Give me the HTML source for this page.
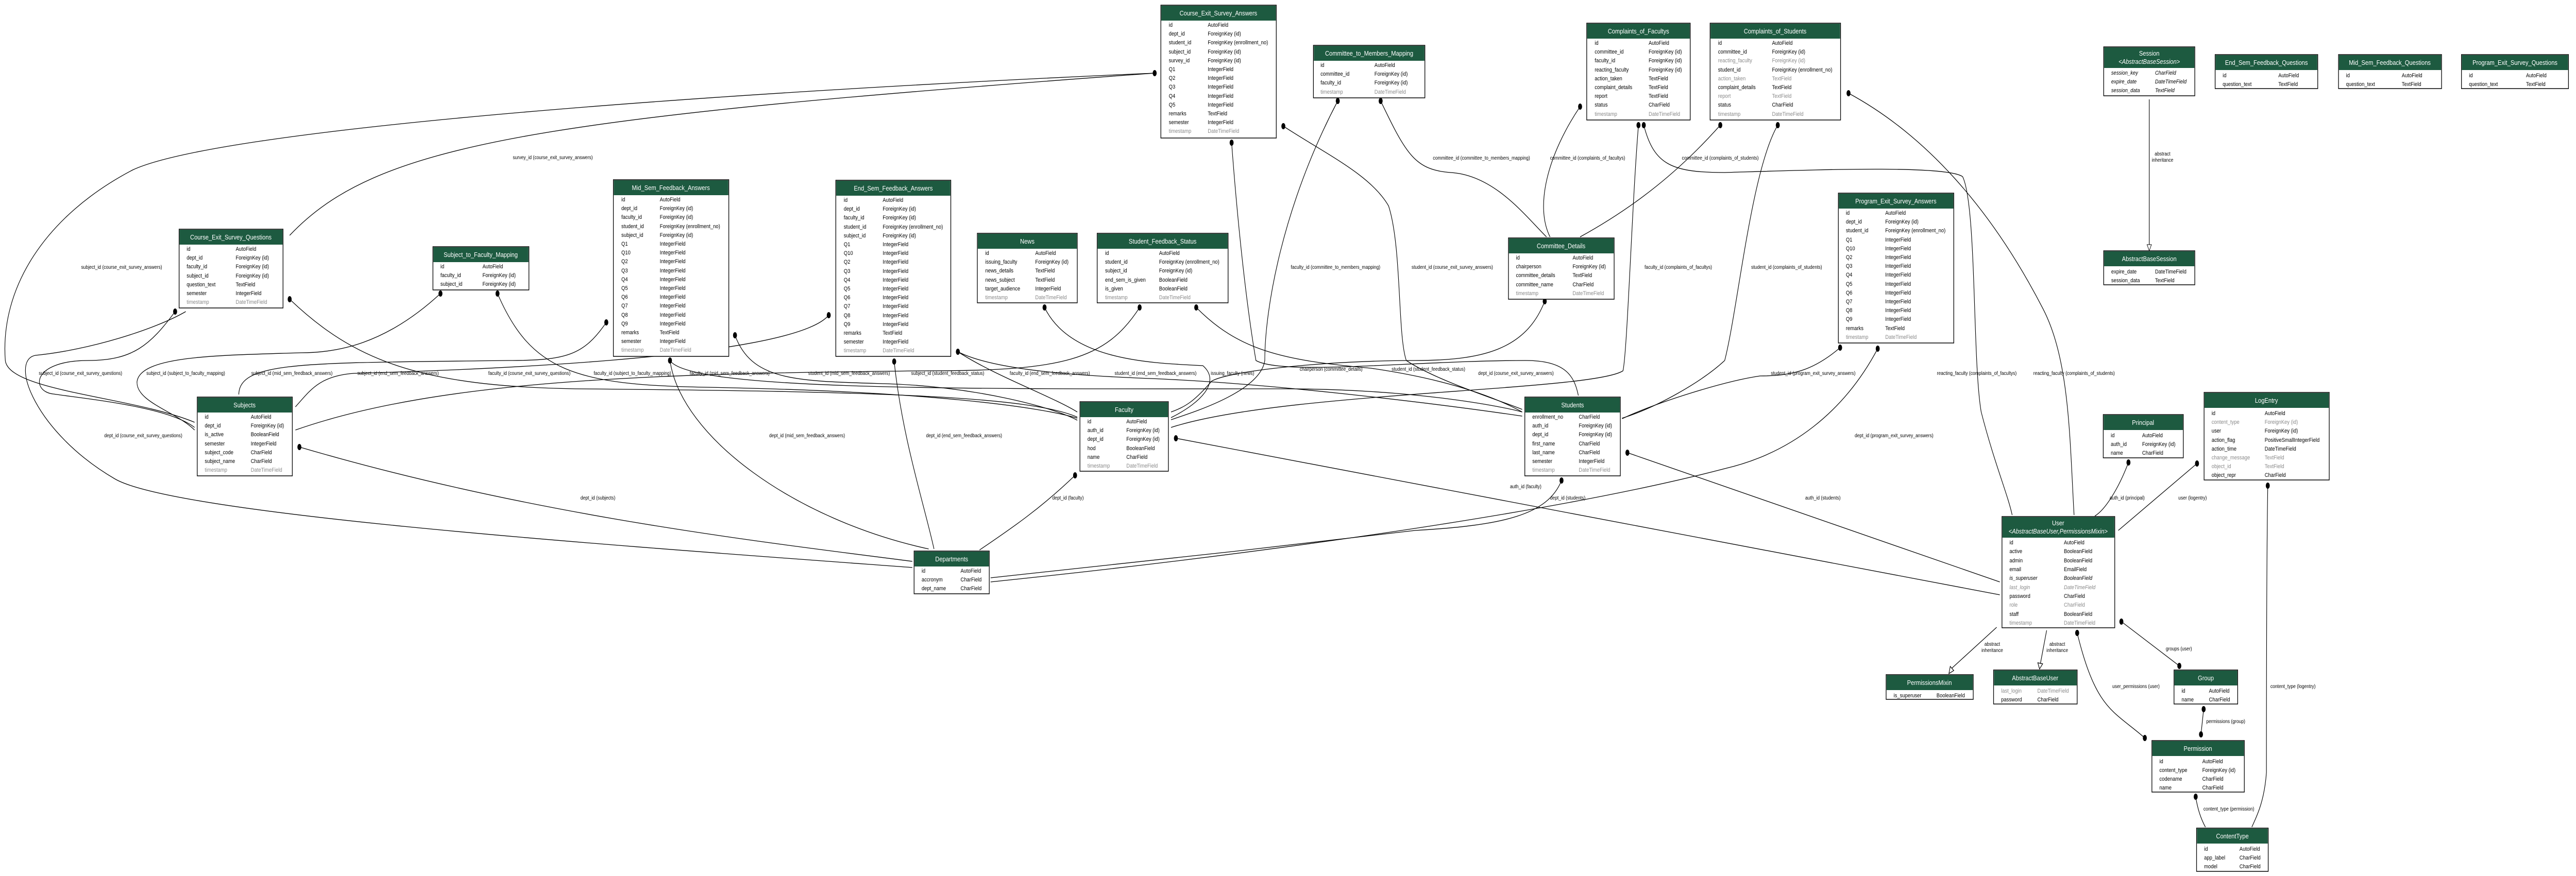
<!DOCTYPE html>
<html><head><meta charset="utf-8"><style>
html,body{margin:0;padding:0;background:#fff;width:100vw;height:100vh;overflow:hidden;}
svg{display:block;width:100vw;height:100vh}
.r{font-family:"Liberation Sans",sans-serif;font-size:11px;fill:#000}
.g{fill:#8a8a8a}
.i{font-style:italic}
.h{font-family:"Liberation Sans",sans-serif;font-size:13px;fill:#fff;text-anchor:middle}
.l{font-family:"Liberation Sans",sans-serif;font-size:10px;fill:#000;text-anchor:middle}
.e{fill:none;stroke:#000;stroke-width:1.3}
.hd{fill:#1d5a40}
.bx{fill:#fff;stroke:#000;stroke-width:1.5}
</style></head><body>
<svg viewBox="0 0 5825 1701" preserveAspectRatio="none" xmlns="http://www.w3.org/2000/svg">
<rect width="5825" height="1701" fill="#fff"/>

<g>
<path class="e" d="M2611,142 C1600,180 500,250 300,330 C100,420 0,560 12,700 C20,760 300,770 440,820"/>
<path class="e" d="M655,457 C850,280 1200,230 2611,142"/>
<path class="e" d="M396,605 C340,670 300,700 200,700 C70,700 70,760 120,765 C200,775 380,790 440,830"/>
<path class="e" d="M996,570 C870,670 760,685 680,685 C500,690 320,690 310,740 C305,780 400,800 440,835"/>
<path class="e" d="M1371,626 C1320,690 1280,700 1150,700 C700,705 540,700 540,766"/>
<path class="e" d="M1874,612 C1790,700 1000,720 800,725 C720,730 700,760 668,790"/>
<path class="e" d="M655,581 C800,700 950,750 1300,755 C2000,760 2330,770 2436,810"/>
<path class="e" d="M1125,570 C1200,720 1300,748 1600,752 C2100,760 2350,790 2436,812"/>
<path class="e" d="M1662,651 C1700,740 1800,740 2000,745 C2200,750 2380,790 2436,816"/>
<path class="e" d="M1515,700 C1540,850 1800,1010 2100,1066"/>
<path class="e" d="M1515,700 C1560,760 2200,755 2900,755 C3200,755 3400,790 3442,800"/>
<path class="e" d="M2022,702 C2040,850 2090,980 2112,1066"/>
<path class="e" d="M677,868 C1200,1000 1700,1050 2063,1090"/>
<path class="e" d="M2063,1102 C1400,1060 400,1000 260,930 C80,840 20,700 80,690 C200,680 350,640 420,605"/>
<path class="e" d="M2577,597 C2500,700 2400,720 2100,720 C1500,725 1000,735 668,835"/>
<path class="e" d="M2362,597 C2420,700 2600,705 2720,710 C2760,740 2720,780 2648,811"/>
<path class="e" d="M2705,597 C2800,680 2900,700 3100,715 C3300,740 3400,780 3442,800"/>
<path class="e" d="M2166,683 C2250,730 2380,770 2436,800"/>
<path class="e" d="M2166,683 C2250,720 2450,730 2600,735 C2900,745 3300,790 3442,808"/>
<path class="e" d="M3025,196 C2900,400 2860,600 2860,700 C2850,760 2700,800 2648,815"/>
<path class="e" d="M3122,196 C3180,300 3200,330 3280,335 C3380,340 3450,420 3497,460"/>
<path class="e" d="M3573,207 C3500,300 3470,400 3505,460"/>
<path class="e" d="M3890,243 C3800,330 3700,400 3573,460"/>
<path class="e" d="M3705,243 C3690,400 3680,680 3670,720 C3600,760 2900,760 2648,830"/>
<path class="e" d="M3717,243 C3740,320 3780,335 3900,335 C4100,330 4400,320 4438,343 C4470,400 4460,700 4480,800 C4510,900 4540,960 4550,1000"/>
<path class="e" d="M4180,181 C4350,260 4500,400 4620,600 C4680,700 4680,850 4690,1000"/>
<path class="e" d="M4020,243 C3960,330 3930,600 3900,700 C3850,740 3750,790 3668,812"/>
<path class="e" d="M2902,245 C3000,300 3100,340 3140,400 C3170,480 3160,650 3180,700 C3250,740 3400,780 3442,795"/>
<path class="e" d="M2785,277 C2800,450 2820,600 2840,700 C2900,730 3200,700 3450,700 C3540,700 3560,730 3569,768"/>
<path class="e" d="M3493,585 C3450,680 3350,700 3200,700 C3000,700 2780,720 2740,740 C2700,780 2680,790 2648,800"/>
<path class="e" d="M4161,675 C4100,720 4050,730 3980,730 C3900,740 3750,780 3668,813"/>
<path class="e" d="M4246,677 C4170,800 4050,880 3900,910 C3500,1000 2800,1080 2240,1130"/>
<path class="e" d="M3531,933 C3500,1000 3400,1020 3200,1030 C2900,1060 2500,1100 2240,1122"/>
<path class="e" d="M2431,923 C2350,990 2280,1030 2215,1068"/>
<path class="e" d="M2659,851 L4522,1155"/>
<path class="e" d="M3680,879 L4522,1130"/>
<path class="e" d="M4813,898 C4790,950 4760,990 4737,1002"/>
<path class="e" d="M4968,900 L4790,1030"/>
<path class="e" d="M5128,943 C5125,1100 5125,1400 5125,1500 C5120,1560 5100,1590 5092,1606"/>
<path class="e" d="M4965,1547 C4970,1575 4980,1595 4987,1606"/>
<path class="e" d="M4983,1377 L4977,1426"/>
<path class="e" d="M4797,1207 L4928,1293"/>
<path class="e" d="M4697,1229 C4740,1380 4780,1380 4850,1433"/>
<path class="e" d="M4860,193 L4860,475"/>
<polygon points="4855,475 4865,475 4860,487" fill="#fff" stroke="#000"/>
<path class="e" d="M4515,1218 L4413,1298"/>
<polygon points="4407,1308 4410,1294 4418,1302" fill="#fff" stroke="#000" stroke-width="1.3"/>
<path class="e" d="M4628,1224 L4614,1288"/>
<polygon points="4612,1299 4608,1287 4619,1289" fill="#fff" stroke="#000" stroke-width="1.3"/>
</g>
<g fill="#000">
<ellipse cx="2611" cy="142" rx="4.5" ry="6"/><ellipse cx="396" cy="605" rx="4.5" ry="6"/>
<ellipse cx="996" cy="570" rx="4.5" ry="6"/><ellipse cx="1371" cy="626" rx="4.5" ry="6"/>
<ellipse cx="1874" cy="612" rx="4.5" ry="6"/><ellipse cx="655" cy="581" rx="4.5" ry="6"/>
<ellipse cx="1125" cy="570" rx="4.5" ry="6"/><ellipse cx="1662" cy="651" rx="4.5" ry="6"/>
<ellipse cx="1515" cy="700" rx="4.5" ry="6"/><ellipse cx="2022" cy="702" rx="4.5" ry="6"/>
<ellipse cx="677" cy="868" rx="4.5" ry="6"/><ellipse cx="2577" cy="597" rx="4.5" ry="6"/>
<ellipse cx="2362" cy="597" rx="4.5" ry="6"/><ellipse cx="2705" cy="597" rx="4.5" ry="6"/>
<ellipse cx="2166" cy="683" rx="4.5" ry="6"/><ellipse cx="3025" cy="196" rx="4.5" ry="6"/>
<ellipse cx="3122" cy="196" rx="4.5" ry="6"/><ellipse cx="3573" cy="207" rx="4.5" ry="6"/>
<ellipse cx="3890" cy="243" rx="4.5" ry="6"/><ellipse cx="3705" cy="243" rx="4.5" ry="6"/>
<ellipse cx="3717" cy="243" rx="4.5" ry="6"/><ellipse cx="4180" cy="181" rx="4.5" ry="6"/>
<ellipse cx="4020" cy="243" rx="4.5" ry="6"/><ellipse cx="2902" cy="245" rx="4.5" ry="6"/>
<ellipse cx="2785" cy="277" rx="4.5" ry="6"/><ellipse cx="3493" cy="585" rx="4.5" ry="6"/>
<ellipse cx="4161" cy="675" rx="4.5" ry="6"/><ellipse cx="4246" cy="677" rx="4.5" ry="6"/>
<ellipse cx="3531" cy="933" rx="4.5" ry="6"/><ellipse cx="2431" cy="923" rx="4.5" ry="6"/>
<ellipse cx="2659" cy="851" rx="4.5" ry="6"/><ellipse cx="3680" cy="879" rx="4.5" ry="6"/>
<ellipse cx="4813" cy="898" rx="4.5" ry="6"/><ellipse cx="4968" cy="900" rx="4.5" ry="6"/>
<ellipse cx="5128" cy="943" rx="4.5" ry="6"/><ellipse cx="4965" cy="1547" rx="4.5" ry="6"/>
<ellipse cx="4983" cy="1377" rx="4.5" ry="6"/><ellipse cx="4977" cy="1426" rx="4.5" ry="6"/>
<ellipse cx="4797" cy="1207" rx="4.5" ry="6"/><ellipse cx="4928" cy="1293" rx="4.5" ry="6"/>
<ellipse cx="4697" cy="1229" rx="4.5" ry="6"/><ellipse cx="4850" cy="1433" rx="4.5" ry="6"/>
</g>
<g>
<text class="l" x="275" y="522">subject_id (course_exit_survey_answers)</text>
<text class="l" x="1250" y="309">survey_id (course_exit_survey_answers)</text>
<text class="l" x="182" y="728">subject_id (course_exit_survey_questions)</text>
<text class="l" x="420" y="728">subject_id (subject_to_faculty_mapping)</text>
<text class="l" x="660" y="728">subject_id (mid_sem_feedback_answers)</text>
<text class="l" x="900" y="728">subject_id (end_sem_feedback_answers)</text>
<text class="l" x="1197" y="728">faculty_id (course_exit_survey_questions)</text>
<text class="l" x="1430" y="728">faculty_id (subject_to_faculty_mapping)</text>
<text class="l" x="1650" y="728">faculty_id (mid_sem_feedback_answers)</text>
<text class="l" x="1920" y="728">student_id (mid_sem_feedback_answers)</text>
<text class="l" x="2143" y="728">subject_id (student_feedback_status)</text>
<text class="l" x="2374" y="728">faculty_id (end_sem_feedback_answers)</text>
<text class="l" x="2613" y="728">student_id (end_sem_feedback_answers)</text>
<text class="l" x="2787" y="728">issuing_faculty (news)</text>
<text class="l" x="3010" y="720">chairperson (committee_details)</text>
<text class="l" x="3230" y="720">student_id (student_feedback_status)</text>
<text class="l" x="3428" y="728">dept_id (course_exit_survey_answers)</text>
<text class="l" x="4100" y="728">student_id (program_exit_survey_answers)</text>
<text class="l" x="4470" y="728">reacting_faculty (complaints_of_facultys)</text>
<text class="l" x="4690" y="728">reacting_faculty (complaints_of_students)</text>
<text class="l" x="324" y="849">dept_id (course_exit_survey_questions)</text>
<text class="l" x="1825" y="849">dept_id (mid_sem_feedback_answers)</text>
<text class="l" x="2180" y="849">dept_id (end_sem_feedback_answers)</text>
<text class="l" x="4283" y="849">dept_id (program_exit_survey_answers)</text>
<text class="l" x="1352" y="970">dept_id (subjects)</text>
<text class="l" x="2415" y="970">dept_id (faculty)</text>
<text class="l" x="3450" y="948">auth_id (faculty)</text>
<text class="l" x="3545" y="970">dept_id (students)</text>
<text class="l" x="4122" y="970">auth_id (students)</text>
<text class="l" x="4810" y="970">auth_id (principal)</text>
<text class="l" x="4958" y="970">user (logentry)</text>
<text class="l" x="3020" y="522">faculty_id (committee_to_members_mapping)</text>
<text class="l" x="3284" y="522">student_id (course_exit_survey_answers)</text>
<text class="l" x="3795" y="522">faculty_id (complaints_of_facultys)</text>
<text class="l" x="4040" y="522">student_id (complaints_of_students)</text>
<text class="l" x="3350" y="310">committee_id (committee_to_members_mapping)</text>
<text class="l" x="3590" y="310">committee_id (complaints_of_facultys)</text>
<text class="l" x="3890" y="310">committee_id (complaints_of_students)</text>
<text class="l" x="4890" y="302">abstract</text><text class="l" x="4890" y="314">inheritance</text>
<text class="l" x="4505" y="1254">abstract</text><text class="l" x="4505" y="1266">inheritance</text>
<text class="l" x="4652" y="1254">abstract</text><text class="l" x="4652" y="1266">inheritance</text>
<text class="l" x="4927" y="1263">groups (user)</text>
<text class="l" x="4830" y="1336">user_permissions (user)</text>
<text class="l" x="5033" y="1404">permissions (group)</text>
<text class="l" x="5040" y="1574">content_type (permission)</text>
<text class="l" x="5185" y="1336">content_type (logentry)</text>
</g>

<g transform="translate(2625,10)"><rect class="bx" width="261" height="258"/><rect class="hd" x="1" y="1" width="259" height="29"/>
<text class="h" x="130" y="20">Course_Exit_Survey_Answers</text>
<g class="r"><text x="18" y="42">id</text><text x="106" y="42">AutoField</text>
<text x="18" y="59">dept_id</text><text x="106" y="59">ForeignKey (id)</text>
<text x="18" y="76">student_id</text><text x="106" y="76">ForeignKey (enrollment_no)</text>
<text x="18" y="94">subject_id</text><text x="106" y="94">ForeignKey (id)</text>
<text x="18" y="111">survey_id</text><text x="106" y="111">ForeignKey (id)</text>
<text x="18" y="128">Q1</text><text x="106" y="128">IntegerField</text>
<text x="18" y="145">Q2</text><text x="106" y="145">IntegerField</text>
<text x="18" y="162">Q3</text><text x="106" y="162">IntegerField</text>
<text x="18" y="180">Q4</text><text x="106" y="180">IntegerField</text>
<text x="18" y="197">Q5</text><text x="106" y="197">IntegerField</text>
<text x="18" y="214">remarks</text><text x="106" y="214">TextField</text>
<text x="18" y="231">semester</text><text x="106" y="231">IntegerField</text>
<text class="r g" x="18" y="248">timestamp</text><text class="r g" x="106" y="248">DateTimeField</text></g></g>

<g transform="translate(2970,88)"><rect class="bx" width="252" height="102"/><rect class="hd" x="1" y="1" width="250" height="29"/>
<text class="h" x="126" y="20">Committee_to_Members_Mapping</text>
<g class="r"><text x="16" y="42">id</text><text x="138" y="42">AutoField</text>
<text x="16" y="59">committee_id</text><text x="138" y="59">ForeignKey (id)</text>
<text x="16" y="76">faculty_id</text><text x="138" y="76">ForeignKey (id)</text>
<text class="r g" x="16" y="94">timestamp</text><text class="r g" x="138" y="94">DateTimeField</text></g></g>

<g transform="translate(3588,45)"><rect class="bx" width="234" height="188"/><rect class="hd" x="1" y="1" width="232" height="29"/>
<text class="h" x="117" y="20">Complaints_of_Facultys</text>
<g class="r"><text x="18" y="42">id</text><text x="140" y="42">AutoField</text>
<text x="18" y="59">committee_id</text><text x="140" y="59">ForeignKey (id)</text>
<text x="18" y="76">faculty_id</text><text x="140" y="76">ForeignKey (id)</text>
<text x="18" y="94">reacting_faculty</text><text x="140" y="94">ForeignKey (id)</text>
<text x="18" y="111">action_taken</text><text x="140" y="111">TextField</text>
<text x="18" y="128">complaint_details</text><text x="140" y="128">TextField</text>
<text x="18" y="145">report</text><text x="140" y="145">TextField</text>
<text x="18" y="162">status</text><text x="140" y="162">CharField</text>
<text class="r g" x="18" y="180">timestamp</text><text class="r g" x="140" y="180">DateTimeField</text></g></g>

<g transform="translate(3867,45)"><rect class="bx" width="295" height="188"/><rect class="hd" x="1" y="1" width="293" height="29"/>
<text class="h" x="147" y="20">Complaints_of_Students</text>
<g class="r"><text x="18" y="42">id</text><text x="140" y="42">AutoField</text>
<text x="18" y="59">committee_id</text><text x="140" y="59">ForeignKey (id)</text>
<text class="r g" x="18" y="76">reacting_faculty</text><text class="r g" x="140" y="76">ForeignKey (id)</text>
<text x="18" y="94">student_id</text><text x="140" y="94">ForeignKey (enrollment_no)</text>
<text class="r g" x="18" y="111">action_taken</text><text class="r g" x="140" y="111">TextField</text>
<text x="18" y="128">complaint_details</text><text x="140" y="128">TextField</text>
<text class="r g" x="18" y="145">report</text><text class="r g" x="140" y="145">TextField</text>
<text x="18" y="162">status</text><text x="140" y="162">CharField</text>
<text class="r g" x="18" y="180">timestamp</text><text class="r g" x="140" y="180">DateTimeField</text></g></g>

<g transform="translate(3411,462)"><rect class="bx" width="239" height="119"/><rect class="hd" x="1" y="1" width="237" height="29"/>
<text class="h" x="119" y="20">Committee_Details</text>
<g class="r"><text x="17" y="42">id</text><text x="145" y="42">AutoField</text>
<text x="17" y="59">chairperson</text><text x="145" y="59">ForeignKey (id)</text>
<text x="17" y="76">committee_details</text><text x="145" y="76">TextField</text>
<text x="17" y="94">committee_name</text><text x="145" y="94">CharField</text>
<text class="r g" x="17" y="111">timestamp</text><text class="r g" x="145" y="111">DateTimeField</text></g></g>

<g transform="translate(405,445)"><rect class="bx" width="235" height="153"/><rect class="hd" x="1" y="1" width="233" height="29"/>
<text class="h" x="117" y="20">Course_Exit_Survey_Questions</text>
<g class="r"><text x="17" y="42">id</text><text x="128" y="42">AutoField</text>
<text x="17" y="59">dept_id</text><text x="128" y="59">ForeignKey (id)</text>
<text x="17" y="76">faculty_id</text><text x="128" y="76">ForeignKey (id)</text>
<text x="17" y="94">subject_id</text><text x="128" y="94">ForeignKey (id)</text>
<text x="17" y="111">question_text</text><text x="128" y="111">TextField</text>
<text x="17" y="128">semester</text><text x="128" y="128">IntegerField</text>
<text class="r g" x="17" y="145">timestamp</text><text class="r g" x="128" y="145">DateTimeField</text></g></g>

<g transform="translate(979,479)"><rect class="bx" width="217" height="84"/><rect class="hd" x="1" y="1" width="215" height="29"/>
<text class="h" x="108" y="20">Subject_to_Faculty_Mapping</text>
<g class="r"><text x="17" y="42">id</text><text x="112" y="42">AutoField</text>
<text x="17" y="59">faculty_id</text><text x="112" y="59">ForeignKey (id)</text>
<text x="17" y="76">subject_id</text><text x="112" y="76">ForeignKey (id)</text></g></g>

<g transform="translate(1387,349)"><rect class="bx" width="261" height="343"/><rect class="hd" x="1" y="1" width="259" height="29"/>
<text class="h" x="130" y="20">Mid_Sem_Feedback_Answers</text>
<g class="r"><text x="18" y="42">id</text><text x="105" y="42">AutoField</text>
<text x="18" y="59">dept_id</text><text x="105" y="59">ForeignKey (id)</text>
<text x="18" y="76">faculty_id</text><text x="105" y="76">ForeignKey (id)</text>
<text x="18" y="94">student_id</text><text x="105" y="94">ForeignKey (enrollment_no)</text>
<text x="18" y="111">subject_id</text><text x="105" y="111">ForeignKey (id)</text>
<text x="18" y="128">Q1</text><text x="105" y="128">IntegerField</text>
<text x="18" y="145">Q10</text><text x="105" y="145">IntegerField</text>
<text x="18" y="162">Q2</text><text x="105" y="162">IntegerField</text>
<text x="18" y="180">Q3</text><text x="105" y="180">IntegerField</text>
<text x="18" y="197">Q4</text><text x="105" y="197">IntegerField</text>
<text x="18" y="214">Q5</text><text x="105" y="214">IntegerField</text>
<text x="18" y="231">Q6</text><text x="105" y="231">IntegerField</text>
<text x="18" y="248">Q7</text><text x="105" y="248">IntegerField</text>
<text x="18" y="266">Q8</text><text x="105" y="266">IntegerField</text>
<text x="18" y="283">Q9</text><text x="105" y="283">IntegerField</text>
<text x="18" y="300">remarks</text><text x="105" y="300">TextField</text>
<text x="18" y="317">semester</text><text x="105" y="317">IntegerField</text>
<text class="r g" x="18" y="334">timestamp</text><text class="r g" x="105" y="334">DateTimeField</text></g></g>

<g transform="translate(446,771)"><rect class="bx" width="215" height="153"/><rect class="hd" x="1" y="1" width="213" height="29"/>
<text class="h" x="107" y="20">Subjects</text>
<g class="r"><text x="17" y="42">id</text><text x="121" y="42">AutoField</text>
<text x="17" y="59">dept_id</text><text x="121" y="59">ForeignKey (id)</text>
<text x="17" y="76">is_active</text><text x="121" y="76">BooleanField</text>
<text x="17" y="94">semester</text><text x="121" y="94">IntegerField</text>
<text x="17" y="111">subject_code</text><text x="121" y="111">CharField</text>
<text x="17" y="128">subject_name</text><text x="121" y="128">CharField</text>
<text class="r g" x="17" y="145">timestamp</text><text class="r g" x="121" y="145">DateTimeField</text></g></g>

<g transform="translate(1890,350)"><rect class="bx" width="260" height="342"/><rect class="hd" x="1" y="1" width="258" height="29"/>
<text class="h" x="130" y="20">End_Sem_Feedback_Answers</text>
<g class="r"><text x="18" y="42">id</text><text x="106" y="42">AutoField</text>
<text x="18" y="59">dept_id</text><text x="106" y="59">ForeignKey (id)</text>
<text x="18" y="76">faculty_id</text><text x="106" y="76">ForeignKey (id)</text>
<text x="18" y="94">student_id</text><text x="106" y="94">ForeignKey (enrollment_no)</text>
<text x="18" y="111">subject_id</text><text x="106" y="111">ForeignKey (id)</text>
<text x="18" y="128">Q1</text><text x="106" y="128">IntegerField</text>
<text x="18" y="145">Q10</text><text x="106" y="145">IntegerField</text>
<text x="18" y="162">Q2</text><text x="106" y="162">IntegerField</text>
<text x="18" y="180">Q3</text><text x="106" y="180">IntegerField</text>
<text x="18" y="197">Q4</text><text x="106" y="197">IntegerField</text>
<text x="18" y="214">Q5</text><text x="106" y="214">IntegerField</text>
<text x="18" y="231">Q6</text><text x="106" y="231">IntegerField</text>
<text x="18" y="248">Q7</text><text x="106" y="248">IntegerField</text>
<text x="18" y="266">Q8</text><text x="106" y="266">IntegerField</text>
<text x="18" y="283">Q9</text><text x="106" y="283">IntegerField</text>
<text x="18" y="300">remarks</text><text x="106" y="300">TextField</text>
<text x="18" y="317">semester</text><text x="106" y="317">IntegerField</text>
<text class="r g" x="18" y="334">timestamp</text><text class="r g" x="106" y="334">DateTimeField</text></g></g>

<g transform="translate(2210,453)"><rect class="bx" width="226" height="135"/><rect class="hd" x="1" y="1" width="224" height="29"/>
<text class="h" x="113" y="20">News</text>
<g class="r"><text x="18" y="42">id</text><text x="131" y="42">AutoField</text>
<text x="18" y="59">issuing_faculty</text><text x="131" y="59">ForeignKey (id)</text>
<text x="18" y="76">news_details</text><text x="131" y="76">TextField</text>
<text x="18" y="94">news_subject</text><text x="131" y="94">TextField</text>
<text x="18" y="111">target_audience</text><text x="131" y="111">IntegerField</text>
<text class="r g" x="18" y="128">timestamp</text><text class="r g" x="131" y="128">DateTimeField</text></g></g>

<g transform="translate(2481,453)"><rect class="bx" width="296" height="135"/><rect class="hd" x="1" y="1" width="294" height="29"/>
<text class="h" x="148" y="20">Student_Feedback_Status</text>
<g class="r"><text x="18" y="42">id</text><text x="140" y="42">AutoField</text>
<text x="18" y="59">student_id</text><text x="140" y="59">ForeignKey (enrollment_no)</text>
<text x="18" y="76">subject_id</text><text x="140" y="76">ForeignKey (id)</text>
<text x="18" y="94">end_sem_is_given</text><text x="140" y="94">BooleanField</text>
<text x="18" y="111">is_given</text><text x="140" y="111">BooleanField</text>
<text class="r g" x="18" y="128">timestamp</text><text class="r g" x="140" y="128">DateTimeField</text></g></g>

<g transform="translate(2442,780)"><rect class="bx" width="200" height="135"/><rect class="hd" x="1" y="1" width="198" height="29"/>
<text class="h" x="100" y="20">Faculty</text>
<g class="r"><text x="17" y="42">id</text><text x="105" y="42">AutoField</text>
<text x="17" y="59">auth_id</text><text x="105" y="59">ForeignKey (id)</text>
<text x="17" y="76">dept_id</text><text x="105" y="76">ForeignKey (id)</text>
<text x="17" y="94">hod</text><text x="105" y="94">BooleanField</text>
<text x="17" y="111">name</text><text x="105" y="111">CharField</text>
<text class="r g" x="17" y="128">timestamp</text><text class="r g" x="105" y="128">DateTimeField</text></g></g>

<g transform="translate(2067,1070)"><rect class="bx" width="170" height="83"/><rect class="hd" x="1" y="1" width="168" height="29"/>
<text class="h" x="85" y="20">Departments</text>
<g class="r"><text x="17" y="42">id</text><text x="105" y="42">AutoField</text>
<text x="17" y="59">accronym</text><text x="105" y="59">CharField</text>
<text x="17" y="76">dept_name</text><text x="105" y="76">CharField</text></g></g>

<g transform="translate(3448,771)"><rect class="bx" width="216" height="153"/><rect class="hd" x="1" y="1" width="214" height="29"/>
<text class="h" x="108" y="20">Students</text>
<g class="r"><text x="17" y="42">enrollment_no</text><text x="122" y="42">CharField</text>
<text x="17" y="59">auth_id</text><text x="122" y="59">ForeignKey (id)</text>
<text x="17" y="76">dept_id</text><text x="122" y="76">ForeignKey (id)</text>
<text x="17" y="94">first_name</text><text x="122" y="94">CharField</text>
<text x="17" y="111">last_name</text><text x="122" y="111">CharField</text>
<text x="17" y="128">semester</text><text x="122" y="128">IntegerField</text>
<text class="r g" x="17" y="145">timestamp</text><text class="r g" x="122" y="145">DateTimeField</text></g></g>

<g transform="translate(4157,375)"><rect class="bx" width="261" height="291"/><rect class="hd" x="1" y="1" width="259" height="29"/>
<text class="h" x="130" y="20">Program_Exit_Survey_Answers</text>
<g class="r"><text x="17" y="42">id</text><text x="106" y="42">AutoField</text>
<text x="17" y="59">dept_id</text><text x="106" y="59">ForeignKey (id)</text>
<text x="17" y="76">student_id</text><text x="106" y="76">ForeignKey (enrollment_no)</text>
<text x="17" y="94">Q1</text><text x="106" y="94">IntegerField</text>
<text x="17" y="111">Q10</text><text x="106" y="111">IntegerField</text>
<text x="17" y="128">Q2</text><text x="106" y="128">IntegerField</text>
<text x="17" y="145">Q3</text><text x="106" y="145">IntegerField</text>
<text x="17" y="162">Q4</text><text x="106" y="162">IntegerField</text>
<text x="17" y="180">Q5</text><text x="106" y="180">IntegerField</text>
<text x="17" y="197">Q6</text><text x="106" y="197">IntegerField</text>
<text x="17" y="214">Q7</text><text x="106" y="214">IntegerField</text>
<text x="17" y="231">Q8</text><text x="106" y="231">IntegerField</text>
<text x="17" y="248">Q9</text><text x="106" y="248">IntegerField</text>
<text x="17" y="266">remarks</text><text x="106" y="266">TextField</text>
<text class="r g" x="17" y="283">timestamp</text><text class="r g" x="106" y="283">DateTimeField</text></g></g>

<g transform="translate(4757,91)"><rect class="bx" width="206" height="95"/><rect class="hd" x="1" y="1" width="204" height="40"/>
<text class="h" x="103" y="17">Session</text><text class="h i" x="103" y="33">&lt;AbstractBaseSession&gt;</text>
<g class="r i"><text x="17" y="54">session_key</text><text x="116" y="54">CharField</text>
<text x="17" y="71">expire_date</text><text x="116" y="71">DateTimeField</text>
<text x="17" y="88">session_data</text><text x="116" y="88">TextField</text></g></g>

<g transform="translate(5009,106)"><rect class="bx" width="232" height="66"/><rect class="hd" x="1" y="1" width="230" height="29"/>
<text class="h" x="116" y="20">End_Sem_Feedback_Questions</text>
<g class="r"><text x="17" y="44">id</text><text x="143" y="44">AutoField</text>
<text x="17" y="61">question_text</text><text x="143" y="61">TextField</text></g></g>

<g transform="translate(5288,106)"><rect class="bx" width="233" height="66"/><rect class="hd" x="1" y="1" width="231" height="29"/>
<text class="h" x="116" y="20">Mid_Sem_Feedback_Questions</text>
<g class="r"><text x="17" y="44">id</text><text x="143" y="44">AutoField</text>
<text x="17" y="61">question_text</text><text x="143" y="61">TextField</text></g></g>

<g transform="translate(5566,106)"><rect class="bx" width="242" height="66"/><rect class="hd" x="1" y="1" width="240" height="29"/>
<text class="h" x="121" y="20">Program_Exit_Survey_Questions</text>
<g class="r"><text x="17" y="44">id</text><text x="146" y="44">AutoField</text>
<text x="17" y="61">question_text</text><text x="146" y="61">TextField</text></g></g>

<g transform="translate(4757,487)"><rect class="bx" width="206" height="66"/><rect class="hd" x="1" y="1" width="204" height="29"/>
<text class="h" x="103" y="20">AbstractBaseSession</text>
<g class="r"><text x="17" y="44">expire_date</text><text x="116" y="44">DateTimeField</text>
<text x="17" y="61">session_data</text><text x="116" y="61">TextField</text></g></g>

<g transform="translate(4756,805)"><rect class="bx" width="181" height="84"/><rect class="hd" x="1" y="1" width="179" height="29"/>
<text class="h" x="90" y="20">Principal</text>
<g class="r"><text x="17" y="44">id</text><text x="88" y="44">AutoField</text>
<text x="17" y="61">auth_id</text><text x="88" y="61">ForeignKey (id)</text>
<text x="17" y="78">name</text><text x="88" y="78">CharField</text></g></g>

<g transform="translate(4984,762)"><rect class="bx" width="283" height="170"/><rect class="hd" x="1" y="1" width="281" height="29"/>
<text class="h" x="141" y="20">LogEntry</text>
<g class="r"><text x="17" y="44">id</text><text x="137" y="44">AutoField</text>
<text class="r g" x="17" y="61">content_type</text><text class="r g" x="137" y="61">ForeignKey (id)</text>
<text x="17" y="78">user</text><text x="137" y="78">ForeignKey (id)</text>
<text x="17" y="96">action_flag</text><text x="137" y="96">PositiveSmallIntegerField</text>
<text x="17" y="113">action_time</text><text x="137" y="113">DateTimeField</text>
<text class="r g" x="17" y="130">change_message</text><text class="r g" x="137" y="130">TextField</text>
<text class="r g" x="17" y="147">object_id</text><text class="r g" x="137" y="147">TextField</text>
<text x="17" y="164">object_repr</text><text x="137" y="164">CharField</text></g></g>

<g transform="translate(4527,1003)"><rect class="bx" width="255" height="216"/><rect class="hd" x="1" y="1" width="253" height="40"/>
<text class="h" x="127" y="17">User</text><text class="h i" x="127" y="33">&lt;AbstractBaseUser,PermissionsMixin&gt;</text>
<g class="r"><text x="17" y="54">id</text><text x="140" y="54">AutoField</text>
<text x="17" y="71">active</text><text x="140" y="71">BooleanField</text>
<text x="17" y="89">admin</text><text x="140" y="89">BooleanField</text>
<text x="17" y="106">email</text><text x="140" y="106">EmailField</text>
<text class="r i" x="17" y="123">is_superuser</text><text class="r i" x="140" y="123">BooleanField</text>
<text class="r i g" x="17" y="141">last_login</text><text class="r i g" x="140" y="141">DateTimeField</text>
<text x="17" y="158">password</text><text x="140" y="158">CharField</text>
<text class="r g" x="17" y="175">role</text><text class="r g" x="140" y="175">CharField</text>
<text x="17" y="193">staff</text><text x="140" y="193">BooleanField</text>
<text class="r g" x="17" y="210">timestamp</text><text class="r g" x="140" y="210">DateTimeField</text></g></g>

<g transform="translate(4265,1310)"><rect class="bx" width="197" height="48"/><rect class="hd" x="1" y="1" width="195" height="29"/>
<text class="h" x="98" y="20">PermissionsMixin</text>
<g class="r"><text x="17" y="44">is_superuser</text><text x="114" y="44">BooleanField</text></g></g>

<g transform="translate(4508,1301)"><rect class="bx" width="189" height="66"/><rect class="hd" x="1" y="1" width="187" height="29"/>
<text class="h" x="94" y="20">AbstractBaseUser</text>
<g class="r"><text class="r g" x="17" y="44">last_login</text><text class="r g" x="99" y="44">DateTimeField</text>
<text x="17" y="61">password</text><text x="99" y="61">CharField</text></g></g>

<g transform="translate(4916,1301)"><rect class="bx" width="144" height="66"/><rect class="hd" x="1" y="1" width="142" height="29"/>
<text class="h" x="72" y="20">Group</text>
<g class="r"><text x="17" y="44">id</text><text x="79" y="44">AutoField</text>
<text x="17" y="61">name</text><text x="79" y="61">CharField</text></g></g>

<g transform="translate(4866,1438)"><rect class="bx" width="209" height="100"/><rect class="hd" x="1" y="1" width="207" height="29"/>
<text class="h" x="104" y="20">Permission</text>
<g class="r"><text x="17" y="44">id</text><text x="114" y="44">AutoField</text>
<text x="17" y="61">content_type</text><text x="114" y="61">ForeignKey (id)</text>
<text x="17" y="78">codename</text><text x="114" y="78">CharField</text>
<text x="17" y="95">name</text><text x="114" y="95">CharField</text></g></g>

<g transform="translate(4967,1608)"><rect class="bx" width="162" height="84"/><rect class="hd" x="1" y="1" width="160" height="29"/>
<text class="h" x="81" y="20">ContentType</text>
<g class="r"><text x="17" y="44">id</text><text x="97" y="44">AutoField</text>
<text x="17" y="61">app_label</text><text x="97" y="61">CharField</text>
<text x="17" y="78">model</text><text x="97" y="78">CharField</text></g></g>

</svg>
</body></html>
